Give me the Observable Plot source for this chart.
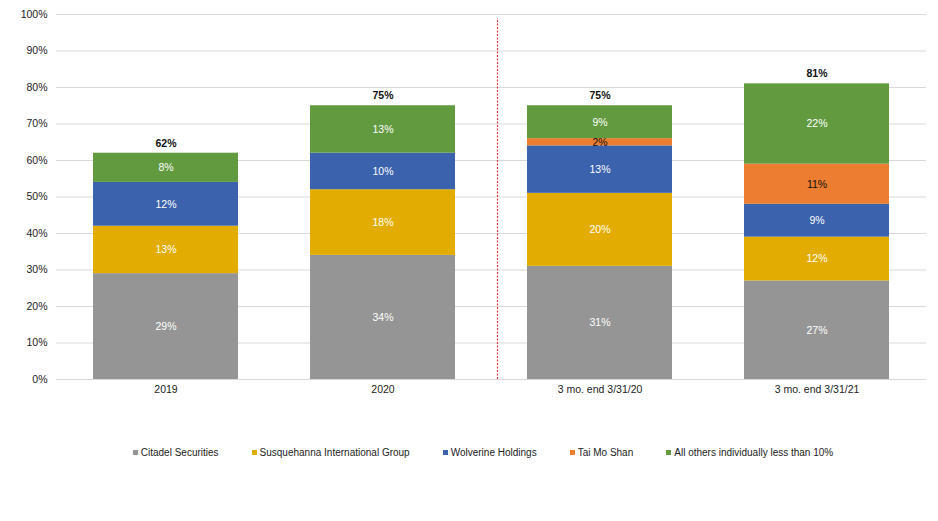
<!DOCTYPE html>
<html>
<head>
<meta charset="utf-8">
<script src="https://cdn.jsdelivr.net/npm/d3@7"></script>
<script src="https://cdn.jsdelivr.net/npm/@observablehq/plot@0.6"></script>
<style>
  body { margin: 0; background: #fff; font-family: "Liberation Sans", Arial, sans-serif; }
  #chart svg { display: block; }
  #legend { display: flex; justify-content: center; gap: 33px; font-size: 10px; color: #222; margin-top: 42px; padding-left: 28px; }
  #legend .item { display: flex; align-items: center; gap: 3px; }
  #legend .sw { width: 5px; height: 5px; display: inline-block; }
</style>
</head>
<body>
<div id="chart"></div>
<div id="legend"></div>
<script>
const categories = ["2019", "2020", "3 mo. end 3/31/20", "3 mo. end 3/31/21"];
const seriesNames = ["Citadel Securities", "Susquehanna International Group", "Wolverine Holdings", "Tai Mo Shan", "All others individually less than 10%"];
const citadel = [29, 34, 31, 27];
const susquehanna = [13, 18, 20, 12];
const wolverine = [12, 10, 13, 9];
const taiMoShan = [0, 0, 2, 11];
const others = [8, 13, 9, 22];
const totals = [62, 75, 75, 81];
const yTicks = [0, 10, 20, 30, 40, 50, 60, 70, 80, 90, 100];
const colors = ["#959595", "#E2AC00", "#3A62AD", "#EC7D31", "#619A3F"];

const seriesValues = [citadel, susquehanna, wolverine, taiMoShan, others];
const data = [];
seriesNames.forEach((s, si) => categories.forEach((c, ci) => data.push({category: c, series: s, value: seriesValues[si][ci]})));
const totalData = categories.map((c, i) => ({category: c, total: totals[i]}));

const chart = Plot.plot({
  width: 938,
  height: 405,
  marginTop: 14,
  marginBottom: 26,
  marginLeft: 56,
  marginRight: 12,
  style: {fontFamily: "'Liberation Sans', Arial, sans-serif", fontSize: "10.5px", color: "#222"},
  x: {domain: categories, paddingInner: 0.333, paddingOuter: 0.1667, label: null, tickSize: 0, tickPadding: 6},
  y: {domain: [0, 100], ticks: yTicks, tickFormat: d => d + "%", label: null, tickSize: 0, tickPadding: 9},
  color: {domain: seriesNames, range: colors},
  marks: [
    Plot.gridY(yTicks, {stroke: "#d9d9d9", strokeOpacity: 1}),
    Plot.barY(data, Plot.stackY({x: "category", y: "value", fill: "series", order: seriesNames})),
    Plot.text(data, Plot.stackY({
      x: "category", y: "value", z: "series", order: seriesNames,
      text: d => d.value > 0 ? d.value + "%" : "",
      fill: d => d.series === "Tai Mo Shan" ? "#111" : "#fff",
      fontSize: 10.5
    })),
    Plot.text(totalData, {x: "category", y: "total", text: d => d.total + "%", dy: -10, fontWeight: "bold", fill: "#111", fontSize: 10.5}),
    Plot.ruleX([categories[2]], {x: d => d, dx: -102.5, y1: 0, y2: 100, insetBottom: -4, stroke: "#e0393b", strokeOpacity: 1, strokeDasharray: "2,1.5", strokeWidth: 1.2})
  ]
});
document.getElementById("chart").appendChild(chart);

const legend = document.getElementById("legend");
seriesNames.forEach((s, i) => {
  const item = document.createElement("span");
  item.className = "item";
  const sw = document.createElement("span");
  sw.className = "sw";
  sw.style.background = colors[i];
  item.appendChild(sw);
  item.appendChild(document.createTextNode(s));
  legend.appendChild(item);
});
</script>
</body>
</html>
